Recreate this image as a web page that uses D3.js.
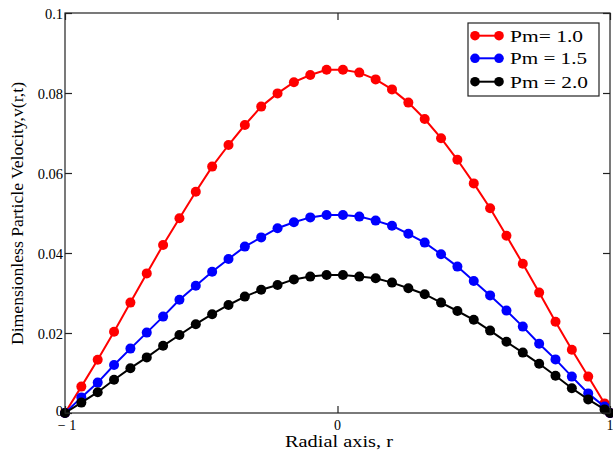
<!DOCTYPE html>
<html>
<head>
<meta charset="utf-8">
<script src="https://cdn.jsdelivr.net/npm/d3@7/dist/d3.min.js"></script>
<style>
  html, body { margin: 0; padding: 0; background: #fff; }
  svg { display: block; }
  svg text { font-family: "Liberation Serif", "Times New Roman", Times, serif; }
</style>
</head>
<body>
<svg id="chart" width="613" height="454"></svg>
<script>
// Radial positions of the sampled points
const radius = [-1, -0.94, -0.88, -0.82, -0.76, -0.70, -0.64, -0.58, -0.52, -0.46,
  -0.40, -0.34, -0.28, -0.22, -0.16, -0.10, -0.04, 0.02, 0.08, 0.14,
  0.20, 0.26, 0.32, 0.38, 0.44, 0.50, 0.56, 0.62, 0.68, 0.74,
  0.80, 0.86, 0.92, 0.98, 1.00];

// Particle velocity profiles for three magnetic Prandtl numbers
const velPm10 = [0, 0.0066, 0.0133, 0.0203, 0.0276, 0.0349, 0.0420, 0.0487, 0.0553, 0.0616,
  0.0670, 0.0720, 0.0766, 0.0799, 0.0827, 0.0845, 0.0858, 0.0858, 0.0851, 0.0834,
  0.0809, 0.0776, 0.0735, 0.0687, 0.0633, 0.0574, 0.0512, 0.0443, 0.0373, 0.0301,
  0.0228, 0.0158, 0.0091, 0.0024, 0];
const velPm15 = [0, 0.0039, 0.0076, 0.0120, 0.0161, 0.0201, 0.0241, 0.0283, 0.0318, 0.0353,
  0.0385, 0.0416, 0.0439, 0.0462, 0.0477, 0.0489, 0.0495, 0.0495, 0.0491, 0.0481,
  0.0468, 0.0448, 0.0426, 0.0397, 0.0366, 0.0330, 0.0294, 0.0256, 0.0216, 0.0173,
  0.0134, 0.0091, 0.0049, 0.0016, 0];
const velPm20 = [0, 0.0026, 0.0052, 0.0083, 0.0112, 0.0139, 0.0168, 0.0195, 0.0222, 0.0247,
  0.0270, 0.0291, 0.0308, 0.0320, 0.0334, 0.0341, 0.0345, 0.0345, 0.0341, 0.0337,
  0.0326, 0.0312, 0.0297, 0.0276, 0.0255, 0.0233, 0.0206, 0.0178, 0.0151, 0.0123,
  0.0093, 0.0062, 0.0034, 0.0009, 0];

const seriesNames = ["Pm= 1.0", "Pm = 1.5", "Pm = 2.0"];
const seriesColors = ["#ff0000", "#0000ff", "#000000"];

const xTicks = [-1, 0, 1];
const xTickLabels = ["\u2212 1", "0", "1"];
const yTicks = [0, 0.02, 0.04, 0.06, 0.08, 0.1];
const yTickLabels = ["0", "0.02", "0.04", "0.06", "0.08", "0.1"];

const svg = d3.select("#chart");
const frame = { left: 65, right: 610, top: 13, bottom: 413 };

const x = d3.scaleLinear().domain([-1, 1]).range([frame.left, frame.right]);
const y = d3.scaleLinear().domain([0, 0.1]).range([frame.bottom, frame.top]);

const series = [velPm10, velPm15, velPm20].map((vals, i) => ({
  name: seriesNames[i],
  color: seriesColors[i],
  points: vals.map((v, j) => ({ r: radius[j], v }))
}));

// Curves with filled markers
const line = d3.line().x(d => x(d.r)).y(d => y(d.v));
series.forEach(s => {
  const g = svg.append("g");
  g.append("path")
    .attr("d", line(s.points))
    .attr("fill", "none")
    .attr("stroke", s.color)
    .attr("stroke-width", 2);
  g.selectAll("circle")
    .data(s.points)
    .join("circle")
    .attr("cx", d => x(d.r))
    .attr("cy", d => y(d.v))
    .attr("r", 5)
    .attr("fill", s.color);
});

// Axes box with inward ticks on all sides
const tickLen = 7;
const axisColor = "#222";
const axisG = svg.append("g");
axisG.append("rect")
  .attr("x", frame.left).attr("y", frame.top)
  .attr("width", frame.right - frame.left)
  .attr("height", frame.bottom - frame.top)
  .attr("fill", "none").attr("stroke", axisColor).attr("stroke-width", 1.2);

const bottomAxis = d3.axisBottom(x).tickValues(xTicks).tickSize(-tickLen).tickFormat("");
const topAxis = d3.axisTop(x).tickValues(xTicks).tickSize(-tickLen).tickFormat("");
const leftAxis = d3.axisLeft(y).tickValues(yTicks).tickSize(-tickLen).tickFormat("");
const rightAxis = d3.axisRight(y).tickValues(yTicks).tickSize(-tickLen).tickFormat("");

[[bottomAxis, `translate(0,${frame.bottom})`], [topAxis, `translate(0,${frame.top})`],
 [leftAxis, `translate(${frame.left},0)`], [rightAxis, `translate(${frame.right},0)`]]
  .forEach(([ax, tr]) => {
    const g = axisG.append("g").attr("transform", tr).call(ax);
    g.select(".domain").remove();
    g.selectAll(".tick line").attr("stroke", axisColor).attr("stroke-width", 1.2);
  });

// Tick labels
svg.append("g").selectAll("text")
  .data(yTicks)
  .join("text")
  .attr("x", 63)
  .attr("y", d => y(d) + (d === 0 ? 3 : 5.5))
  .attr("text-anchor", "end")
  .attr("font-size", 14.5)
  .attr("fill", "#000")
  .text((d, i) => yTickLabels[i]);

svg.append("g").selectAll("text")
  .data(xTicks)
  .join("text")
  .attr("x", d => x(d) + (d === -1 ? 2 : 0))
  .attr("y", 430)
  .attr("text-anchor", "middle")
  .attr("font-size", 14)
  .attr("fill", "#000")
  .text((d, i) => xTickLabels[i]);

// Axis titles
svg.append("text")
  .attr("x", 339)
  .attr("y", 447)
  .attr("text-anchor", "middle")
  .attr("font-size", 16.5)
  .attr("textLength", 108)
  .attr("lengthAdjust", "spacingAndGlyphs")
  .text("Radial axis, r");

svg.append("text")
  .attr("transform", "translate(23,213.5) rotate(-90)")
  .attr("text-anchor", "middle")
  .attr("font-size", 17)
  .attr("textLength", 263)
  .attr("lengthAdjust", "spacingAndGlyphs")
  .text("Dimensionless Particle Velocity,v(r,t)");

// Legend
const legend = svg.append("g");
legend.append("rect")
  .attr("x", 468).attr("y", 23)
  .attr("width", 131).attr("height", 73)
  .attr("fill", "#fff").attr("stroke", axisColor).attr("stroke-width", 1.2);

const legendRows = [35.7, 58.3, 81.7];
const legendTextLen = [73, 77, 78];
series.forEach((s, i) => {
  const cy = legendRows[i];
  legend.append("line")
    .attr("x1", 471).attr("x2", 503)
    .attr("y1", cy).attr("y2", cy)
    .attr("stroke", s.color).attr("stroke-width", 2);
  [475, 499].forEach(cx => {
    legend.append("circle")
      .attr("cx", cx).attr("cy", cy).attr("r", 4.8).attr("fill", s.color);
  });
  legend.append("text")
    .attr("x", 510)
    .attr("y", cy + 6)
    .attr("font-size", 17.5)
    .attr("textLength", legendTextLen[i])
    .attr("lengthAdjust", "spacingAndGlyphs")
    .attr("fill", "#000")
    .text(s.name);
});
</script>
</body>
</html>
